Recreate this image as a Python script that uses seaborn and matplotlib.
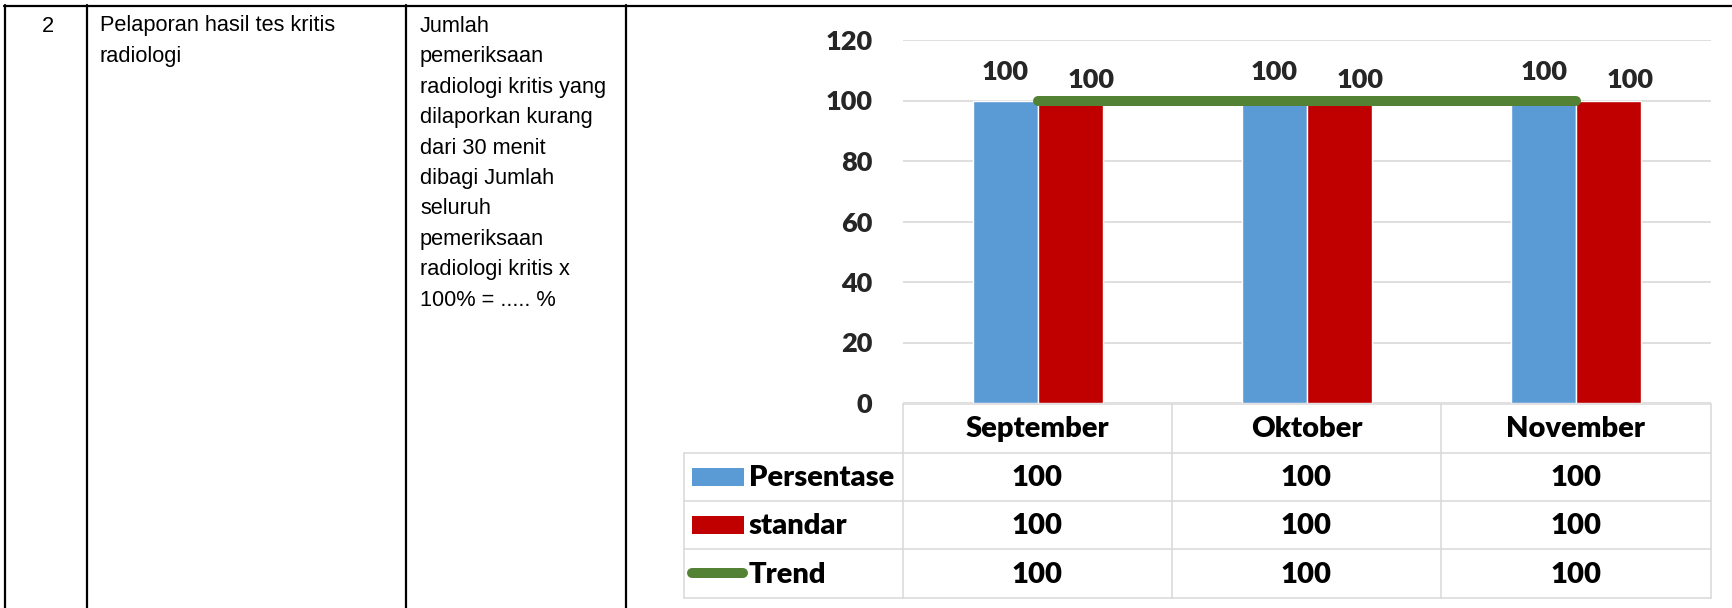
import numpy as np
import pandas as pd
import seaborn as sns
import matplotlib.pyplot as plt
from matplotlib.lines import Line2D
from matplotlib.patches import Rectangle

# data
bulan = ["September", "Oktober", "November"]
persentase = [100, 100, 100]
standar = [100, 100, 100]
trend = [100, 100, 100]
yticks = [0, 20, 40, 60, 80, 100, 120]

no_urut = "2"
indikator = ["Pelaporan hasil tes kritis", "radiologi"]
rumus = ["Jumlah", "pemeriksaan", "radiologi kritis yang", "dilaporkan kurang",
         "dari 30 menit", "dibagi Jumlah", "seluruh", "pemeriksaan",
         "radiologi kritis x", "100% = ..... %"]

BLUE = "#5B9BD5"
RED = "#C00000"
GREEN = "#548235"
GRID = "#D9D9D9"
WEIGHT = "heavy"

W, H = 1733, 608
sns.set_style("white")
plt.rcParams["font.family"] = ["Lato", "DejaVu Sans"]

fig = plt.figure(figsize=(W / 100, H / 100), dpi=100)


def fx(x):
    return x / W


def fy(y):
    return 1 - y / H


def hline(y, x0, x1, color, lw):
    fig.add_artist(Line2D([fx(x0), fx(x1)], [fy(y), fy(y)], color=color, lw=lw,
                          transform=fig.transFigure))


def vline(x, y0, y1, color, lw):
    fig.add_artist(Line2D([fx(x), fx(x)], [fy(y0), fy(y1)], color=color, lw=lw,
                          transform=fig.transFigure))


# document table borders
hline(5.5, 4, W, "black", 1.6)
for xv in [5, 87, 406, 626]:
    vline(xv, 5, H, "black", 1.6)

doc_font = dict(family="Liberation Sans", fontsize=15.7, color="black", va="baseline")
fig.text(fx(47.5), fy(31.5), no_urut, ha="center", **doc_font)
for i, t in enumerate(indikator):
    fig.text(fx(100), fy(31.5 + i * 30.5), t, ha="left", **doc_font)
for i, t in enumerate(rumus):
    fig.text(fx(420), fy(31.5 + i * 30.5), t, ha="left", **doc_font)

# chart
ax = fig.add_axes([fx(903), fy(403), (1711 - 903) / W, (403 - 40) / H])
df = pd.DataFrame({
    "bulan": bulan * 2,
    "nilai": persentase + standar,
    "seri": ["Persentase"] * len(bulan) + ["standar"] * len(bulan),
})
sns.barplot(data=df, x="bulan", y="nilai", hue="seri", palette=[BLUE, RED],
            width=0.483, gap=0, saturation=1, errorbar=None, legend=False, ax=ax,
            zorder=2)
sns.lineplot(x=np.arange(len(bulan)), y=trend, color=GREEN, lw=7.2,
             solid_capstyle="round", ax=ax, zorder=4)

# data labels
offsets = [(0, 20), (21, 13)]
for cont, (dx, dy) in zip(ax.containers, offsets):
    for bar in cont:
        ax.annotate(f"{bar.get_height():.0f}",
                    (bar.get_x() + bar.get_width() / 2, bar.get_height()),
                    xytext=(dx, dy), textcoords="offset pixels",
                    ha="center", va="baseline", fontsize=19.5, fontweight=WEIGHT)

ax.set_ylim(0, 120)
ax.set_yticks(yticks)
ax.set_yticklabels([str(v) for v in yticks], fontsize=19.5, fontweight=WEIGHT)
ax.set_xlim(-0.5, len(bulan) - 0.5)
ax.set_xticks([])
ax.set_xlabel("")
ax.set_ylabel("")
ax.tick_params(axis="y", length=0, pad=22)
ax.yaxis.grid(True, color=GRID, lw=1.2, zorder=0)
ax.set_axisbelow(True)
for s in ax.spines.values():
    s.set_visible(False)

# data table under the chart
col_x = [903, 1172, 1441, 1711]
row_y = [404, 453, 501, 549, 598]
hline(row_y[0], col_x[0], col_x[-1], GRID, 1.1)
for yv in row_y[1:]:
    hline(yv, 684, col_x[-1], GRID, 1.1)
vline(684, row_y[1], row_y[-1], GRID, 1.1)
for xv in col_x:
    vline(xv, row_y[0], row_y[-1], GRID, 1.1)

tab_font = dict(fontsize=21, fontweight=WEIGHT, va="baseline", color="black")
centers = [(col_x[i] + col_x[i + 1]) / 2 for i in range(len(bulan))]
for cx, b in zip(centers, bulan):
    fig.text(fx(cx), fy(437), b, ha="center", **tab_font)

rows = [("Persentase", persentase), ("standar", standar), ("Trend", trend)]
baselines = [486.5, 534.5, 583]
for (nama, vals), by in zip(rows, baselines):
    for cx, v in zip(centers, vals):
        fig.text(fx(cx), fy(by), str(v), ha="center", **tab_font)
    fig.text(fx(749), fy(by), nama, ha="left", **tab_font)

# legend keys
for yc, col in [(477, BLUE), (525, RED)]:
    fig.add_artist(Rectangle((fx(692), fy(yc + 9)), (744 - 692) / W, 18 / H,
                             facecolor=col, edgecolor="none",
                             transform=fig.transFigure))
fig.add_artist(Line2D([fx(692), fx(743)], [fy(573), fy(573)], color=GREEN, lw=7.2,
                      solid_capstyle="round", transform=fig.transFigure))

fig.savefig("out.png", dpi=100)
